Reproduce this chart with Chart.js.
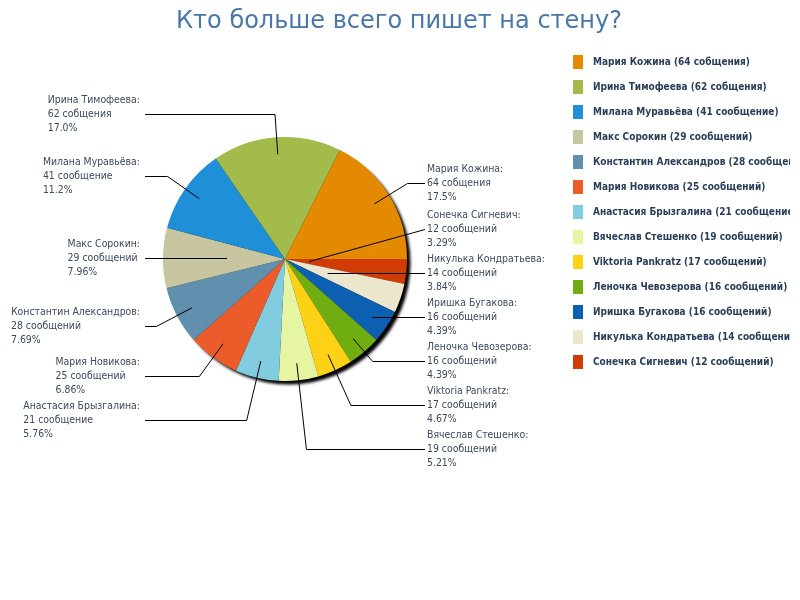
<!DOCTYPE html>
<html>
<head>
<meta charset="utf-8">
<script src="https://cdn.jsdelivr.net/npm/chart.js@4.4.1/dist/chart.umd.min.js"></script>
<style>
  html, body { margin: 0; padding: 0; background: #fff; }
  #wrap { width: 800px; height: 600px; }
</style>
</head>
<body>
<div id="wrap"><canvas id="wallChart" width="800" height="600"></canvas></div>
<script>
const chartTitle = 'Кто больше всего пишет на стену?';

const names = ['Мария Кожина', 'Ирина Тимофеева', 'Милана Муравьёва', 'Макс Сорокин',
    'Константин Александров', 'Мария Новикова', 'Анастасия Брызгалина', 'Вячеслав Стешенко',
    'Viktoria Pankratz', 'Леночка Чевозерова', 'Иришка Бугакова', 'Никулька Кондратьева',
    'Сонечка Сигневич'];
const posts = [64, 62, 41, 29, 28, 25, 21, 19, 17, 16, 16, 14, 12];
const postWords = ['собщения', 'собщения', 'сообщение', 'сообщений', 'сообщений', 'сообщений',
    'сообщение', 'сообщений', 'сообщений', 'сообщений', 'сообщений', 'сообщений', 'сообщений'];
const colors = ['#e38a00', '#a3bb4b', '#1f90d8', '#c8c6a0', '#6190ae', '#ec5c2a', '#82cce0',
    '#e5f5a1', '#fdd116', '#70ad10', '#0d5fb1', '#ece6cd', '#d13b06'];

const total = posts.reduce((s, v) => s + v, 0);

// percent cut (not rounded) to 3 significant digits, like the original
function pctText(v) {
    const p = v / total * 100;
    const d = p >= 10 ? 1 : 2;
    const m = Math.pow(10, d);
    return (Math.floor(p * m + 1e-9) / m).toFixed(d) + '%';
}

// the original goes counter-clockwise from 3 o'clock, so feed it reversed and go clockwise
const rev = arr => [...arr].reverse();

const labelFont = '10.4px "DejaVu Sans Condensed", "DejaVu Sans", sans-serif';
const legendFont = 'bold 10px "DejaVu Sans Condensed", "DejaVu Sans", sans-serif';

const shadowPlugin = {
    id: 'pieShadow',
    beforeDatasetsDraw(chart) {
        const arc = chart.getDatasetMeta(0).data[0];
        if (!arc) return;
        const ctx = chart.ctx;
        ctx.save();
        ctx.shadowColor = 'rgba(0,0,0,1)';
        ctx.shadowBlur = 3;
        ctx.shadowOffsetX = 4;
        ctx.shadowOffsetY = 4;
        ctx.fillStyle = '#222';
        ctx.beginPath();
        ctx.arc(arc.x, arc.y, arc.outerRadius - 0.5, 0, Math.PI * 2);
        ctx.fill();
        ctx.restore();
    }
};

const labelsPlugin = {
    id: 'sideLabels',
    afterDraw(chart) {
        const ctx = chart.ctx;
        const arcs = chart.getDatasetMeta(0).data;
        const n = arcs.length;
        const cx = arcs[0].x, cy = arcs[0].y, r = arcs[0].outerRadius;
        const gap = 44;
        const maxY = cy + r * 1.56, minY = cy - r * 1.56;

        const items = arcs.map((a, k) => {
            const i = n - 1 - k; // back to original order
            const ang = (a.startAngle + a.endAngle) / 2;
            return {
                i, ang,
                right: Math.cos(ang) >= 0,
                want: cy + Math.sin(ang) * r * 1.19
            };
        });

        // push down from the top, then back up from the bottom limit
        [true, false].forEach(side => {
            const list = items.filter(o => o.right === side).sort((a, b) => a.want - b.want);
            let prev = -Infinity;
            list.forEach(o => { o.y = Math.max(o.want, prev + gap, minY); prev = o.y; });
            let next = Infinity;
            for (let k = list.length - 1; k >= 0; k--) {
                const o = list[k];
                o.y = Math.min(o.y, next - gap, maxY);
                next = o.y;
            }
        });

        ctx.save();
        ctx.strokeStyle = '#000';
        ctx.lineWidth = 1;
        items.forEach(o => {
            const cos = Math.cos(o.ang), sin = Math.sin(o.ang);
            const ly = Math.round(o.y) + 0.5;
            const endX = o.right ? cx + 140 : cx - 140;
            const aDist = r * 0.86;
            const t = Math.abs(sin) > 1e-3 ? (ly - cy) / sin : -1;
            ctx.beginPath();
            if (t > 0 && t < r * 3) {
                const px = cx + cos * t;
                if (t > aDist) {
                    ctx.moveTo(cx + cos * aDist, cy + sin * aDist);
                    ctx.lineTo(px, ly);
                } else {
                    ctx.moveTo(px, ly);
                }
                ctx.lineTo(endX, ly);
            } else {
                ctx.moveTo(cx + cos * r * 0.2, cy + sin * r * 0.2);
                ctx.lineTo(endX, ly);
            }
            ctx.stroke();

            ctx.fillStyle = '#3c4a5d';
            ctx.font = labelFont;
            ctx.textBaseline = 'middle';
            ctx.textAlign = 'left';
            const lines = [names[o.i] + ':', posts[o.i] + ' ' + postWords[o.i], pctText(posts[o.i])];
            let tx = cx + 142;
            if (!o.right) {
                // left block is right-aligned as a whole, its lines start on the same x
                const w = Math.max(...lines.map(s => ctx.measureText(s).width));
                tx = cx - 145 - w;
            }
            lines.forEach((s, k) => ctx.fillText(s, tx, ly + (k - 1) * 14));
        });
        ctx.restore();
    }
};

const decorPlugin = {
    id: 'titleAndLegend',
    afterDraw(chart) {
        const ctx = chart.ctx;
        ctx.save();
        ctx.fillStyle = '#4b77a6';
        ctx.font = '24px "DejaVu Sans", sans-serif';
        ctx.textAlign = 'center';
        ctx.textBaseline = 'alphabetic';
        ctx.fillText(chartTitle, 399, 28);

        ctx.beginPath();
        ctx.rect(560, 40, 230, 340);
        ctx.clip();
        ctx.font = legendFont;
        ctx.textAlign = 'left';
        ctx.textBaseline = 'middle';
        names.forEach((nm, i) => {
            const y = 62 + i * 25;
            ctx.fillStyle = colors[i];
            ctx.fillRect(573, y - 7, 10, 14);
            ctx.fillStyle = '#2a3e5a';
            ctx.fillText(nm + ' (' + posts[i] + ' ' + postWords[i] + ')', 593, y);
        });
        ctx.restore();
    }
};

new Chart(document.getElementById('wallChart').getContext('2d'), {
    type: 'pie',
    data: {
        labels: rev(names),
        datasets: [{
            data: rev(posts),
            backgroundColor: rev(colors),
            borderWidth: 0
        }]
    },
    options: {
        responsive: false,
        animation: false,
        rotation: 90,
        layout: { padding: { left: 163, right: 393, top: 137, bottom: 219 } },
        plugins: {
            legend: { display: false },
            title: { display: false },
            tooltip: { enabled: false }
        }
    },
    plugins: [shadowPlugin, labelsPlugin, decorPlugin]
});
</script>
</body>
</html>
